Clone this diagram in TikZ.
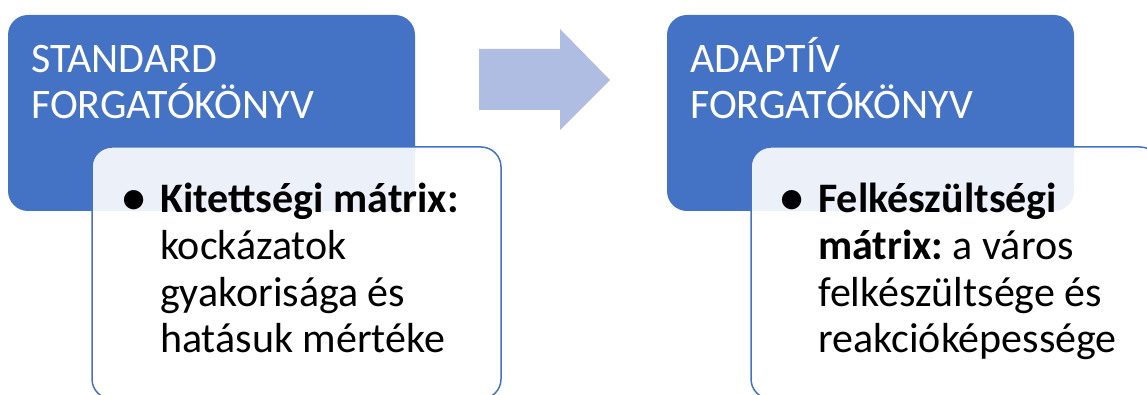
\documentclass[tikz,border=0pt]{standalone}
\usepackage{fontspec}
\usepackage{graphicx}
\setmainfont{Carlito}
\frenchspacing
\definecolor{headblue}{RGB}{68,114,196}
\definecolor{arrowblue}{RGB}{176,189,226}
\newcommand{\bigbullet}{\llap{\raisebox{-3pt}{\scalebox{1.3}{\textbullet}}\hspace{13pt}}}
\begin{document}
\begin{tikzpicture}[
  x=1pt, y=1pt,
  head_box/.style={rectangle, fill=headblue, rounded corners=20pt,
                   minimum width=407pt, minimum height=196pt, inner sep=0pt},
  body_box/.style={rectangle, draw=headblue, line width=1.5pt,
                   fill=white, fill opacity=0.9, rounded corners=20pt,
                   minimum width=409pt, minimum height=252pt, inner sep=0pt},
  head_text/.style={anchor=base west, align=left, inner sep=0pt,
                    text=white, font=\fontsize{42}{46}\selectfont},
  body_text/.style={anchor=base west, align=left, inner sep=0pt,
                    font=\fontsize{42}{46.7}\selectfont}
]
  \useasboundingbox (0, 0) rectangle (1147, 395);
  \clip (0, 0) rectangle (1147, 395);

  \node[head_box] (std)   at (211.5, 282) {};
  \node[head_box] (adapt) at (870.5, 282) {};

  % multi-line nodes: base is the last line
  \node[head_text] (std_title)   at (31, 276)
    {STANDARD\\FORGATÓKÖNYV};
  \node[head_text] (adapt_title) at (690, 276)
    {ADAPTÍV\\FORGATÓKÖNYV};

  \node[body_box] (kit)  at (296.5, 122) {};
  \node[body_box] (felk) at (955.5, 122) {};

  \node[body_text] (kit_text)  at (160, 42)
    {\bigbullet\textbf{Kitettségi mátrix:}\\
     kockázatok\\gyakorisága és\\hatásuk mértéke};
  \node[body_text] (felk_text) at (818, 42)
    {\bigbullet\textbf{Felkészültségi}\\
     \textbf{mátrix:} a város\\felkészültsége és\\reakcióképessége};

  % block arrow between the two columns
  \fill[arrowblue] (479, 346) -- (560, 346) -- (560, 366) -- (610, 315)
    -- (560, 265) -- (560, 285) -- (479, 285) -- cycle;
\end{tikzpicture}
\end{document}
